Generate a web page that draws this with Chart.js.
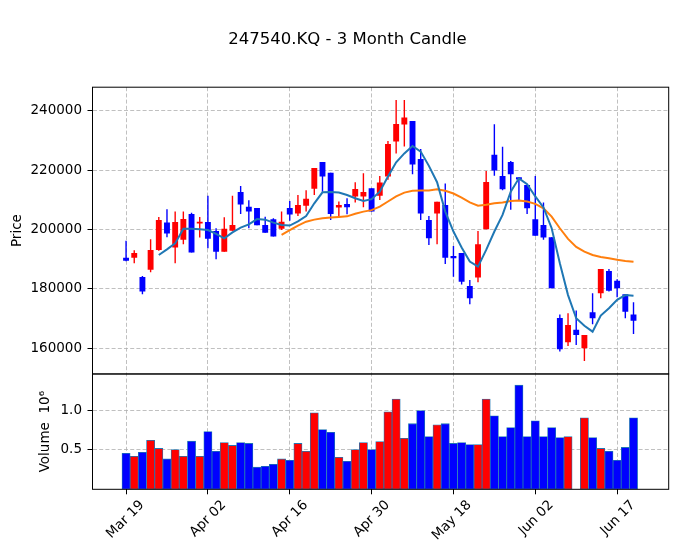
<!DOCTYPE html>
<html>
<head>
<meta charset="utf-8">
<title>247540.KQ - 3 Month Candle</title>
<script src="https://cdn.jsdelivr.net/npm/chart.js@4.4.1/dist/chart.umd.min.js"></script>
<style>
  html, body { margin: 0; padding: 0; background: #fff; }
  #wrap { width: 678px; height: 555px; }
</style>
</head>
<body>
<div id="wrap"><canvas id="candleChart" width="678" height="555"></canvas></div>
<script>
// --- values (one entry per trading day) ---
const opens = [
  190500, 190500, 184000, 186400, 193100, 202300, 193900, 196500, 205200, 202000,
  202500, 199500, 192500, 199600, 212600, 207600, 207200, 201500, 203400, 200200,
  207200, 205400, 208000, 213700, 222700, 219100, 207400, 208600, 211100, 211100,
  213900, 211300, 217800, 229600, 235300, 236500, 223700, 203200, 205400, 208200,
  191100, 192100, 181000, 183800, 200100, 225100, 218000, 222700, 217600, 215000,
  203400, 201500, 197400, 170200, 162000, 166200, 160000, 172100, 178500, 186000,
  182700, 178200, 171400
];
const highs = [
  196200, 193000, 184300, 196700, 204200, 206800, 206000, 206000, 205600, 204200,
  211300, 200400, 204100, 211300, 214600, 209800, 207200, 204300, 203800, 206000,
  209600, 211600, 213200, 220700, 222700, 219100, 209400, 210500, 215900, 218900,
  213900, 218000, 229800, 243600, 243600, 236500, 227100, 204500, 209300, 215500,
  194400, 192100, 183000, 199500, 219700, 235400, 227800, 223000, 217600, 215000,
  218000, 209100, 197400, 171400, 171800, 172700, 164500, 178500, 186700, 186700,
  183200, 178200, 175500
];
const lows = [
  189300, 188600, 178200, 185600, 192800, 197400, 188600, 195000, 192200, 197300,
  193700, 190000, 192500, 199600, 205200, 200400, 201400, 198900, 197600, 199800,
  202900, 204500, 206000, 211600, 212700, 203200, 204500, 205100, 209100, 207500,
  206000, 209900, 216700, 225600, 227900, 218600, 203200, 194800, 195000, 188400,
  184100, 181500, 174800, 182200, 200100, 218100, 213200, 206600, 209900, 205200,
  197900, 196500, 180200, 158900, 160800, 161100, 155700, 168100, 176800, 179100,
  177200, 170100, 164800
];
const closes = [
  189500, 192100, 179100, 193100, 203200, 198600, 202500, 203500, 192200, 202600,
  196900, 192500, 200200, 201500, 208400, 206000, 201400, 198900, 197600, 202600,
  205000, 208200, 210300, 220700, 217800, 205200, 208200, 207500, 213600, 212600,
  206000, 215800, 228800, 235500, 237700, 221900, 205400, 197000, 209300, 190500,
  190300, 182400, 176800, 195000, 216000, 219800, 213500, 218600, 216800, 207100,
  197900, 197300, 180200, 159700, 167800, 164500, 164500, 170100, 186700, 179400,
  180200, 172300, 169300
];
const volumes = [
  455000, 417000, 467000, 621000, 517000, 384000, 504000, 417000, 609000, 417000,
  730000, 480000, 592000, 555000, 592000, 580000, 280000, 292000, 317000, 384000,
  367000, 580000, 480000, 967000, 755000, 721000, 405000, 355000, 504000, 592000,
  504000, 605000, 980000, 1142000, 646000, 830000, 996000, 667000, 817000, 830000,
  580000, 592000, 567000, 567000, 1142000, 930000, 667000, 780000, 1317000, 667000,
  867000, 667000, 780000, 655000, 667000, 0, 905000, 655000, 517000, 480000,
  367000, 530000, 905000
];
// moving averages as drawn (null where the line has not started yet)
const ma5 = [
  null, null, null, null, 191400, 193300, 195300, 200200, 200200, 200100,
  199800, 198500, 197000, 199000, 200600, 201700, 203500, 203300, 202300, 201500,
  201300, 202700, 204500, 208800, 212500, 212600, 212400, 211600, 210500, 209600,
  210200, 212700, 217800, 222600, 225600, 228100, 226200, 221400, 215900, 206000,
  199300, 193900, 189200, 187500, 193100, 199300, 204900, 212700, 217200, 215200,
  211100, 207400, 200400, 188600, 177900, 170100, 167600, 165600, 171000, 173500,
  176300, 177900, 177700
];
const ma20 = [
  null, null, null, null, null, null, null, null, null, null,
  null, null, null, null, null, null, null, null, null, 198200,
  199800, 201300, 202600, 203300, 203800, 204000, 204200, 204400, 205300, 206000,
  206500, 207700, 209400, 211100, 212400, 213000, 213100, 213100, 213500, 213000,
  212100, 210700, 209100, 208000, 208300, 208800, 209100, 209600, 209700, 209400,
  208600, 207100, 204300, 200400, 196800, 194100, 192500, 191400, 190700, 190300,
  189800, 189400, 189100
];
const tickPositions = [0, 10, 20, 30, 40, 50, 60];
const tickLabels = ['Mar 19', 'Apr 02', 'Apr 16', 'Apr 30', 'May 18', 'Jun 02', 'Jun 17'];
const priceTicks = [160000, 180000, 200000, 220000, 240000];
const volumeTicks = [500000, 1000000];

// --- styling ---
const UP = '#ff0000';
const DOWN = '#0000ff';
const GRID = '#b0b0b0';
const FONT = 'DejaVu Sans';

Chart.defaults.font.family = FONT;
Chart.defaults.font.size = 13.5;
Chart.defaults.color = '#000';

const candleColors = closes.map((c, i) => (c >= opens[i] ? UP : DOWN));
const toPoints = (arr) => arr.map((v, i) => ({ x: i, y: v })).filter(p => p.y !== null);

const gridOpts = {
  color: GRID,
  lineWidth: 0.8,
  tickColor: '#000',
  tickWidth: 1,
  tickLength: 5,
  tickBorderDash: [],
  offset: false
};
const borderOpts = { display: false, dash: [4, 2.2] };

// draws the black box around each of the two panels
const panelFrame = {
  id: 'panelFrame',
  afterDraw(chart) {
    const { ctx, chartArea } = chart;
    const w = chartArea.right - chartArea.left;
    ctx.save();
    ctx.strokeStyle = '#000';
    ctx.lineWidth = 1;
    [chart.scales.y, chart.scales.yVol].forEach(s => {
      ctx.strokeRect(chartArea.left, s.top, w, s.bottom - s.top);
    });
    ctx.restore();
  }
};

new Chart(document.getElementById('candleChart'), {
  type: 'bar',
  data: {
    datasets: [
      {
        type: 'line', label: 'MA 5', data: toPoints(ma5), yAxisID: 'y',
        borderColor: '#1f77b4', borderWidth: 2, pointRadius: 0, tension: 0, order: 0
      },
      {
        type: 'line', label: 'MA 20', data: toPoints(ma20), yAxisID: 'y',
        borderColor: '#ff7f0e', borderWidth: 2, pointRadius: 0, tension: 0, order: 0
      },
      {
        label: 'Body', data: opens.map((o, i) => ({ x: i, y: [o, closes[i]] })), yAxisID: 'y',
        backgroundColor: candleColors, borderWidth: 0,
        grouped: false, barPercentage: 0.72, categoryPercentage: 1, order: 1
      },
      {
        label: 'Wick', data: lows.map((l, i) => ({ x: i, y: [l, highs[i]] })), yAxisID: 'y',
        backgroundColor: candleColors, borderWidth: 0,
        grouped: false, barPercentage: 0.17, categoryPercentage: 1, order: 2
      },
      {
        label: 'Volume', data: toPoints(volumes), yAxisID: 'yVol',
        backgroundColor: candleColors, borderColor: '#1f77b4', borderWidth: 0.8, borderSkipped: false,
        grouped: false, barPercentage: 1, categoryPercentage: 1, order: 3
      }
    ]
  },
  options: {
    responsive: false,
    animation: false,
    layout: { padding: { left: 26.3, right: 9.3, top: 0, bottom: 0 } },
    plugins: {
      legend: { display: false },
      tooltip: { enabled: false },
      title: {
        display: true,
        text: '247540.KQ - 3 Month Candle',
        color: '#000',
        font: { family: FONT, size: 16.5, weight: 'normal' },
        padding: { top: 30, bottom: 37.4 }
      }
    },
    scales: {
      x: {
        type: 'linear', min: -4.1, max: 66.3, offset: false,
        afterBuildTicks: s => { s.ticks = tickPositions.map(v => ({ value: v })); },
        afterFit: s => { s.height = 65.7; },
        ticks: {
          autoSkip: false, minRotation: 45, maxRotation: 45, padding: 3, labelOffset: 16,
          callback: v => tickLabels[tickPositions.indexOf(v)]
        },
        grid: gridOpts,
        border: borderOpts
      },
      y: {
        type: 'linear', position: 'left', stack: 'panels', stackWeight: 286.7, weight: 1,
        min: 151350, max: 247880,
        afterBuildTicks: s => { s.ticks = priceTicks.map(v => ({ value: v })); },
        afterFit: s => { s.width = 66.2; },
        ticks: { padding: 5.5, callback: v => String(v) },
        title: { display: true, text: 'Price', padding: { top: -17.4, bottom: 0 } },
        grid: gridOpts,
        border: borderOpts
      },
      yVol: {
        type: 'linear', position: 'left', stack: 'panels', stackWeight: 115.3, weight: 0,
        min: 0, max: 1459000,
        afterBuildTicks: s => { s.ticks = volumeTicks.map(v => ({ value: v })); },
        afterFit: s => { s.width = 66.2; },
        ticks: { padding: 5.5, callback: v => (v / 1e6).toFixed(1) },
        title: { display: true, text: 'Volume  10\u2076', padding: { top: 10.6, bottom: 0 } },
        grid: gridOpts,
        border: borderOpts
      }
    }
  },
  plugins: [panelFrame]
});
</script>
</body>
</html>
